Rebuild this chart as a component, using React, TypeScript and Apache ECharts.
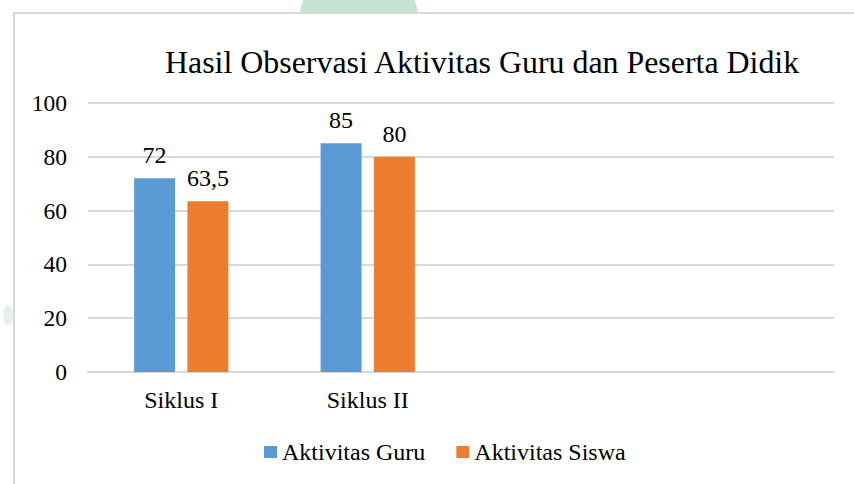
import React, { useEffect, useRef } from "react";
import * as echarts from "echarts";

const categories = ["Siklus I", "Siklus II", "", ""];
const guruValues = [72, 85];
const siswaValues = [63.5, 80];
const seriesNames = ["Aktivitas Guru", "Aktivitas Siswa"];
const yTicks = { min: 0, max: 100, interval: 20 };
const titleText = "Hasil Observasi Aktivitas Guru dan Peserta Didik";

const FONT = "Liberation Serif";

export default function App() {
  const ref = useRef<HTMLDivElement>(null);
  useEffect(() => {
    if (!ref.current) return;
    const chart = echarts.init(ref.current, undefined, { renderer: "svg" });
    const labelFmt = (p: any) => String(p.value).replace(".", ",");
    chart.setOption({
      animation: false,
      backgroundColor: "#ffffff",
      textStyle: { fontFamily: FONT },
      title: {
        text: titleText,
        left: 165,
        top: 46,
        padding: 0,
        textStyle: { fontFamily: FONT, fontSize: 31.9, fontWeight: "normal", color: "#000" },
      },
      graphic: [
        { type: "circle", z: -20, silent: true, shape: { cx: 359, cy: 23, r: 60 }, style: { fill: "#c6e3d2" } },
        { type: "ellipse", z: -20, silent: true, shape: { cx: 8, cy: 315, rx: 5, ry: 10 }, style: { fill: "rgba(200,225,205,0.45)" } },
        {
          type: "rect",
          z: -10,
          silent: true,
          shape: { x: 14, y: 13, width: 860, height: 490 },
          style: { fill: "#ffffff", stroke: "#d9d9d9", lineWidth: 2 },
        },
      ],
      legend: {
        left: 264,
        top: 440,
        padding: 0,
        icon: "rect",
        itemWidth: 13,
        itemHeight: 12,
        itemGap: 31,
        textStyle: { fontFamily: FONT, fontSize: 24, color: "#000", padding: [0, 0, 0, 0] },
        data: seriesNames,
      },
      grid: { left: 88, right: 20, top: 103, bottom: 112, containLabel: false },
      xAxis: {
        type: "category",
        data: categories,
        axisLine: { show: true, lineStyle: { color: "#d9d9d9", width: 2 } },
        axisTick: { show: false },
        axisLabel: { fontFamily: FONT, fontSize: 24, color: "#000", margin: 16 },
      },
      yAxis: {
        type: "value",
        min: yTicks.min,
        max: yTicks.max,
        interval: yTicks.interval,
        axisLine: { show: false },
        axisTick: { show: false },
        splitLine: { lineStyle: { color: "#d9d9d9", width: 2 } },
        axisLabel: { fontFamily: FONT, fontSize: 23.5, color: "#000", margin: 21 },
      },
      series: [
        {
          name: seriesNames[0],
          type: "bar",
          data: guruValues,
          barWidth: 41,
          barGap: "30%",
          itemStyle: { color: "#5b9bd5" },
          label: { show: true, position: "top", distance: 11, fontFamily: FONT, fontSize: 24, color: "#000", formatter: labelFmt },
        },
        {
          name: seriesNames[1],
          type: "bar",
          data: siswaValues,
          barWidth: 41,
          barGap: "30%",
          itemStyle: { color: "#ed7d31" },
          label: { show: true, position: "top", distance: 11, fontFamily: FONT, fontSize: 24, color: "#000", formatter: labelFmt },
        },
      ],
    });
    return () => chart.dispose();
  }, []);
  return (
    <div
      ref={ref}
      style={{ position: "fixed", left: 0, top: 0, width: 854, height: 484 }}
    />
  );
}
